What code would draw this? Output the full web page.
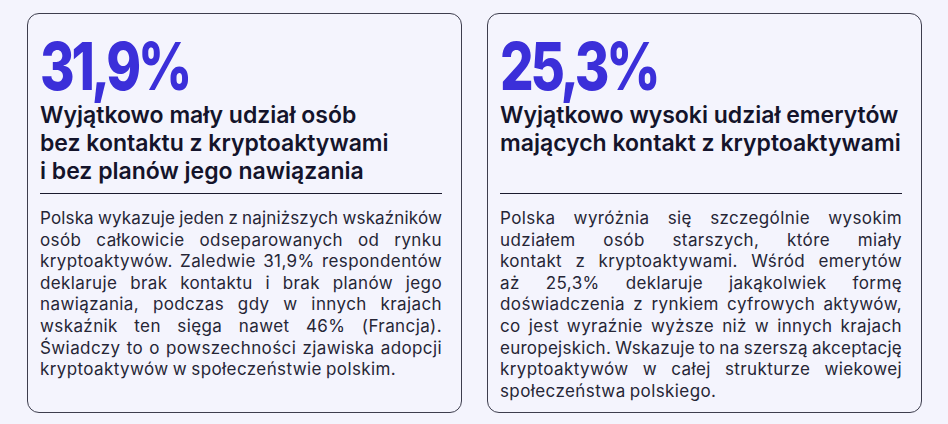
<!DOCTYPE html>
<html lang="pl">
<head>
<meta charset="utf-8">
<script src="https://cdn.jsdelivr.net/npm/chart.js@4.4.1/dist/chart.umd.min.js"></script>
<style>
  html, body { margin: 0; padding: 0; }
  body {
    width: 948px; height: 424px; overflow: hidden;
    background: #f4f4fd;
    font-family: Inter, "Noto Sans", sans-serif;
    position: relative;
  }
  .card {
    position: absolute; top: 13px; width: 433px; height: 398px;
    border: 1px solid #3d3d4d; border-radius: 12px;
    background: #f4f4fd;
  }
  .value {
    position: absolute; left: 12px; top: 27px;
    font-size: 66px; line-height: 50px; font-weight: 800;
    letter-spacing: -4px; color: #3b2fd9; white-space: nowrap;
    transform: scaleX(0.8); transform-origin: 0 0;
  }
  .title {
    position: absolute; left: 12px; top: 88px;
    font-size: 23px; line-height: 27.8px; font-weight: 600;
    color: #14142b; white-space: nowrap;
  }
  .rule {
    position: absolute; left: 12px; top: 179px; width: 402px; height: 1px;
    background: #1a1a2e;
  }
  .body {
    position: absolute; left: 12px; top: 194px; width: 402px;
    font-size: 17px; line-height: 21.6px; color: #262636;
    letter-spacing: 0.4px; word-spacing: -1px;
  }
  .body div { text-align: justify; text-align-last: justify; white-space: nowrap; }
  .body div.last, .body div.measure { text-align-last: left; }
</style>
</head>
<body>
<div id="root"></div>
<script>
// values shown on the two cards
const values = [31.9, 25.3];
const cardLeft = [27, 487];
const titles = [
  ['Wyjątkowo mały udział osób', 'bez kontaktu z kryptoaktywami', 'i bez planów jego nawiązania'],
  ['Wyjątkowo wysoki udział emerytów', 'mających kontakt z kryptoaktywami']
];
const bodies = [
  [
    'Polska wykazuje jeden z najniższych wskaźników',
    'osób całkowicie odseparowanych od rynku',
    'kryptoaktywów. Zaledwie 31,9% respondentów',
    'deklaruje brak kontaktu i brak planów jego',
    'nawiązania, podczas gdy w innych krajach',
    'wskaźnik ten sięga nawet 46% (Francja).',
    'Świadczy to o powszechności zjawiska adopcji',
    'kryptoaktywów w społeczeństwie polskim.'
  ],
  [
    'Polska wyróżnia się szczególnie wysokim',
    'udziałem osób starszych, które miały',
    'kontakt z kryptoaktywami. Wśród emerytów',
    'aż 25,3% deklaruje jakąkolwiek formę',
    'doświadczenia z rynkiem cyfrowych aktywów,',
    'co jest wyraźnie wyższe niż w innych krajach',
    'europejskich. Wskazuje to na szerszą akceptację',
    'kryptoaktywów w całej strukturze wiekowej',
    'społeczeństwa polskiego.'
  ]
];

const root = document.getElementById('root');
const lineWidth = 402;

values.forEach((v, i) => {
  const card = document.createElement('div');
  card.className = 'card';
  card.style.left = cardLeft[i] + 'px';

  const val = document.createElement('div');
  val.className = 'value';
  val.textContent = v.toFixed(1).replace('.', ',') + '%';
  card.appendChild(val);

  const title = document.createElement('div');
  title.className = 'title';
  title.innerHTML = titles[i].join('<br>');
  card.appendChild(title);

  const rule = document.createElement('div');
  rule.className = 'rule';
  card.appendChild(rule);

  const body = document.createElement('div');
  body.className = 'body';
  card.appendChild(body);
  root.appendChild(card);

  bodies[i].forEach((line, j) => {
    const d = document.createElement('div');
    const span = document.createElement('span');
    span.textContent = line;
    d.appendChild(span);
    d.className = 'measure';
    body.appendChild(d);
    // squeeze a line that would run past the column
    const w = span.getBoundingClientRect().width;
    if (w > lineWidth) {
      const ls = 0.4 - (w - lineWidth + 1) / line.length;
      d.style.letterSpacing = ls + 'px';
    }
    d.className = (j === bodies[i].length - 1) ? 'last' : '';
  });
});
</script>
</body>
</html>
